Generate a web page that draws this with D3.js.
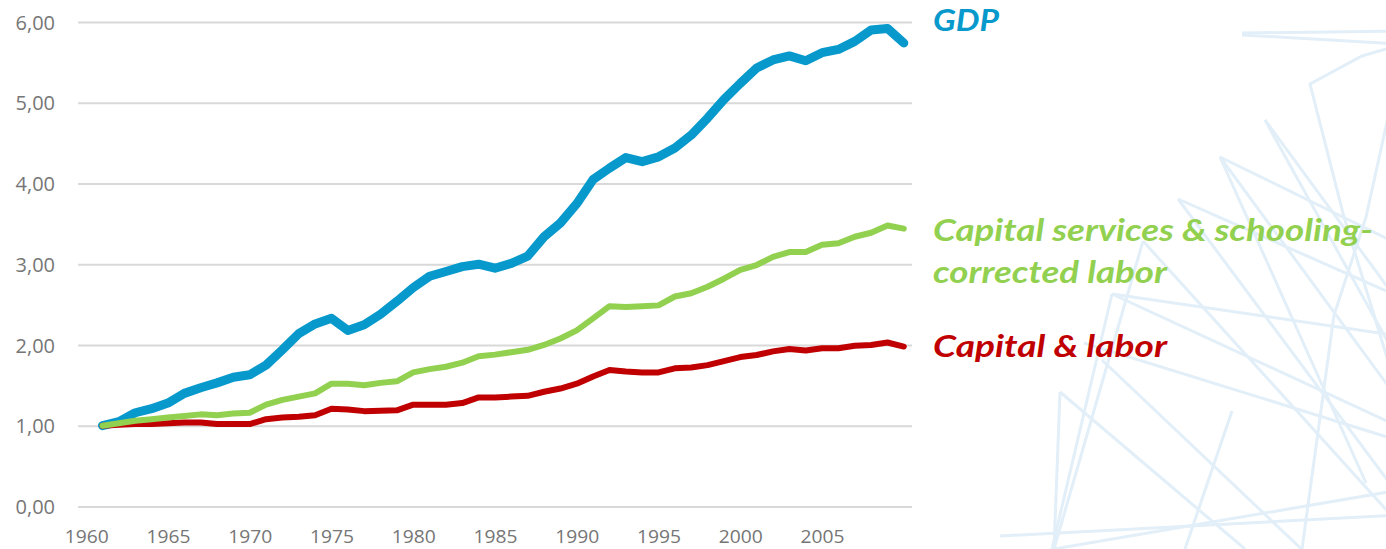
<!DOCTYPE html>
<html>
<head>
<meta charset="utf-8">
<script src="https://cdn.jsdelivr.net/npm/d3@7"></script>
<style>
  html, body { margin: 0; padding: 0; background: #fff; }
  svg { display: block; }
  .tick-label { font-family: 'Open Sans', Lato, sans-serif; fill: #767676; }
  .series-label { font-family: Lato, 'Open Sans', sans-serif; font-weight: 700; font-style: italic; }
</style>
</head>
<body>
<div id="chart"></div>
<script>
// years on the category axis (1960 slot is empty, data from 1961)
var years = d3.range(1960, 2011);
var dataYears = d3.range(1961, 2011);
var labelYears = [1960, 1965, 1970, 1975, 1980, 1985, 1990, 1995, 2000, 2005];
var yTicks = [0, 1, 2, 3, 4, 5, 6];

// index values, 1961 = 1.00
var gdp = [
  1.00, 1.05, 1.16, 1.21, 1.28, 1.40, 1.47, 1.53, 1.60, 1.63,
  1.75, 1.94, 2.14, 2.26, 2.33, 2.18, 2.25, 2.38, 2.54, 2.71,
  2.85, 2.91, 2.97, 3.00, 2.95, 3.01, 3.10, 3.34, 3.51, 3.75,
  4.05, 4.19, 4.32, 4.27, 4.33, 4.44, 4.60, 4.81, 5.04, 5.24,
  5.43, 5.53, 5.58, 5.52, 5.62, 5.66, 5.76, 5.90, 5.92, 5.74
];
var capSchool = [
  1.00, 1.03, 1.06, 1.08, 1.10, 1.12, 1.14, 1.13, 1.15, 1.16,
  1.26, 1.32, 1.36, 1.40, 1.52, 1.52, 1.50, 1.53, 1.55, 1.66,
  1.70, 1.73, 1.78, 1.86, 1.88, 1.91, 1.94, 2.00, 2.08, 2.18,
  2.33, 2.48, 2.47, 2.48, 2.49, 2.60, 2.64, 2.72, 2.82, 2.93,
  2.99, 3.09, 3.15, 3.15, 3.24, 3.26, 3.34, 3.39, 3.48, 3.44
];
var capLabor = [
  1.00, 1.01, 1.02, 1.02, 1.03, 1.04, 1.04, 1.02, 1.02, 1.02,
  1.08, 1.10, 1.11, 1.13, 1.21, 1.20, 1.18, 1.185, 1.19, 1.26,
  1.26, 1.26, 1.28, 1.35, 1.35, 1.36, 1.37, 1.42, 1.46, 1.52,
  1.61, 1.69, 1.67, 1.66, 1.66, 1.71, 1.72, 1.75, 1.80, 1.85,
  1.875, 1.92, 1.95, 1.93, 1.96, 1.96, 1.99, 2.00, 2.03, 1.98
];

var seriesNames = ['Capital & labor', 'GDP', 'Capital services & schooling-corrected labor'];

// faint decorative strokes in the right-hand corner (page art, not data)
var decoration = [
  [[1242, 33], [1400, 31]], [[1242, 35], [1400, 44]],
  [[1400, 45], [1362, 56], [1310, 84], [1344, 217], [1400, 400]],
  [[1400, 63], [1366, 217], [1334, 315], [1302, 549]],
  [[1265, 120], [1400, 304]], [[1265, 120], [1400, 364]],
  [[1220, 157], [1400, 245]], [[1220, 157], [1400, 402]],
  [[1220, 157], [1366, 483]],
  [[1178, 199], [1400, 297]], [[1178, 199], [1400, 497]],
  [[1143, 241], [1400, 525]], [[1143, 241], [1054, 549]],
  [[1112, 294], [1400, 336]], [[1112, 294], [1400, 427]],
  [[1112, 294], [1052, 549]],
  [[1084, 343], [1400, 441]], [[1102, 360], [1350, 595]],
  [[1060, 392], [1245, 549]], [[1060, 392], [1054, 549]],
  [[1232, 411], [1185, 549]],
  [[1000, 536], [1400, 515]], [[1054, 549], [1400, 490]]
];

var width = 1386, height = 549;
var plot = { left: 78, right: 912, top: 22, bottom: 506.4 };

var svg = d3.select('#chart')
  .append('svg')
    .attr('width', width)
    .attr('height', height);

var lineRaw = d3.line();
svg.append('g')
  .attr('class', 'decoration')
.selectAll('path')
.data(decoration)
.enter().append('path')
  .attr('d', function(d) { return lineRaw(d); })
  .attr('fill', 'none')
  .attr('stroke', '#e2eff8')
  .attr('stroke-width', 3);

var x = d3.scalePoint()
  .domain(years)
  .range([plot.left, plot.right])
  .padding(0.5);

var y = d3.scaleLinear()
  .domain([0, 6])
  .range([plot.bottom, plot.top]);

var locale = d3.formatLocale({ decimal: ',', thousands: '.', grouping: [3], currency: ['', ' €'] });
var fmt = locale.format('.2f');

// horizontal grid
svg.append('g')
  .attr('class', 'grid')
  .attr('transform', 'translate(' + plot.left + ',0)')
  .call(d3.axisLeft(y).tickValues(yTicks).tickSize(-(plot.right - plot.left)).tickFormat(''))
  .call(function(g) { g.select('.domain').remove(); })
  .selectAll('line')
    .attr('stroke', '#d9d9d9')
    .attr('stroke-width', 2);

// y axis labels
svg.append('g')
  .attr('transform', 'translate(' + plot.left + ',0)')
  .call(d3.axisLeft(y).tickValues(yTicks).tickSize(0).tickPadding(23).tickFormat(fmt))
  .call(function(g) { g.select('.domain').remove(); })
  .selectAll('text')
    .attr('class', 'tick-label')
    .style('font-size', '20px')
    .attr('dy', '0.36em');

// x axis labels
svg.append('g')
  .attr('transform', 'translate(0,' + plot.bottom + ')')
  .call(d3.axisBottom(x).tickValues(labelYears).tickSize(0).tickPadding(0))
  .call(function(g) { g.select('.domain').remove(); })
  .selectAll('text')
    .attr('class', 'tick-label')
    .style('font-size', '19px')
    .attr('y', 37)
    .attr('dy', 0)
    .attr('textLength', 44)
    .attr('lengthAdjust', 'spacingAndGlyphs');

var line = d3.line()
  .x(function(d, i) { return x(dataYears[i]); })
  .y(function(d) { return y(d); });

var series = [
  { name: seriesNames[1], values: gdp, color: '#0799cc', w: 9 },
  { name: seriesNames[0], values: capLabor, color: '#c00000', w: 6 },
  { name: seriesNames[2], values: capSchool, color: '#92d050', w: 6 }
];

svg.append('g')
  .attr('class', 'lines')
.selectAll('path')
.data(series)
.enter().append('path')
  .attr('d', function(d) { return line(d.values); })
  .attr('fill', 'none')
  .attr('stroke', function(d) { return d.color; })
  .attr('stroke-width', function(d) { return d.w; })
  .attr('stroke-linejoin', 'round')
  .attr('stroke-linecap', 'round');

// labels at the end of the lines
var labels = [
  { text: 'GDP', color: '#0799cc', y: 31, len: 66 },
  { text: 'Capital services & schooling-', color: '#92d050', y: 241, len: 440 },
  { text: 'corrected labor', color: '#92d050', y: 283, len: 234 },
  { text: 'Capital & labor', color: '#c00000', y: 357, len: 234 }
];

svg.append('g')
.selectAll('text')
.data(labels)
.enter().append('text')
  .attr('class', 'series-label')
  .attr('x', 933)
  .attr('y', function(d) { return d.y; })
  .attr('fill', function(d) { return d.color; })
  .style('font-size', '31px')
  .attr('textLength', function(d) { return d.len; })
  .attr('lengthAdjust', 'spacingAndGlyphs')
  .text(function(d) { return d.text; });
</script>
</body>
</html>
